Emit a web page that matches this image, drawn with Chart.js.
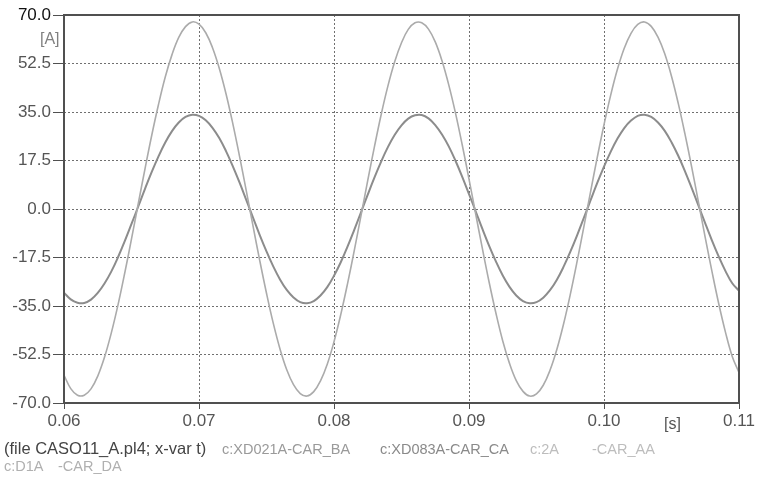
<!DOCTYPE html>
<html>
<head>
<meta charset="utf-8">
<script src="https://cdn.jsdelivr.net/npm/chart.js@4.4.1/dist/chart.umd.min.js"></script>
<style>
  html, body { margin: 0; padding: 0; background: #fff; }
  #wrap { width: 759px; height: 478px; }
</style>
</head>
<body>
<div id="wrap"><canvas id="grafico" width="759" height="478"></canvas></div>
<script>
// Correntes (ATP, 60 Hz), amostras a cada 0,5 ms
const tempos = [
  0.0600, 0.0605, 0.0610, 0.0615, 0.0620, 0.0625, 0.0630, 0.0635, 0.0640, 0.0645,
  0.0650, 0.0655, 0.0660, 0.0665, 0.0670, 0.0675, 0.0680, 0.0685, 0.0690, 0.0695,
  0.0700, 0.0705, 0.0710, 0.0715, 0.0720, 0.0725, 0.0730, 0.0735, 0.0740, 0.0745,
  0.0750, 0.0755, 0.0760, 0.0765, 0.0770, 0.0775, 0.0780, 0.0785, 0.0790, 0.0795,
  0.0800, 0.0805, 0.0810, 0.0815, 0.0820, 0.0825, 0.0830, 0.0835, 0.0840, 0.0845,
  0.0850, 0.0855, 0.0860, 0.0865, 0.0870, 0.0875, 0.0880, 0.0885, 0.0890, 0.0895,
  0.0900, 0.0905, 0.0910, 0.0915, 0.0920, 0.0925, 0.0930, 0.0935, 0.0940, 0.0945,
  0.0950, 0.0955, 0.0960, 0.0965, 0.0970, 0.0975, 0.0980, 0.0985, 0.0990, 0.0995,
  0.1000, 0.1005, 0.1010, 0.1015, 0.1020, 0.1025, 0.1030, 0.1035, 0.1040, 0.1045,
  0.1050, 0.1055, 0.1060, 0.1065, 0.1070, 0.1075, 0.1080, 0.1085, 0.1090, 0.1095,
  0.1100
];

// curva maior (clara)
const correnteBA = [
  -60.0, -64.8, -67.2, -67.2, -64.9, -60.3, -53.5, -44.8, -34.6, -23.1,
  -10.8,   1.9,  14.5,  26.6,  37.7,  47.6,  55.7,  61.9,  65.8,  67.5,
   66.7,  63.6,  58.2,  50.8,  41.6,  30.9,  19.1,   6.6,  -6.1, -18.6,
  -30.4, -41.2, -50.5, -58.0, -63.4, -66.6, -67.5, -65.9, -62.0, -56.0,
  -47.9, -38.1, -27.0, -15.0,  -2.4,  10.3,  22.6,  34.2,  44.5,  53.2,
   60.0,  64.8,  67.2,  67.2,  64.9,  60.3,  53.5,  44.8,  34.6,  23.1,
   10.8,  -1.9, -14.5, -26.6, -37.7, -47.6, -55.7, -61.9, -65.8, -67.5,
  -66.7, -63.6, -58.2, -50.8, -41.6, -30.9, -19.1,  -6.6,   6.1,  18.6,
   30.4,  41.2,  50.5,  58.0,  63.4,  66.6,  67.5,  65.9,  62.0,  56.0,
   47.9,  38.1,  27.0,  15.0,   2.4, -10.3, -22.6, -34.2, -44.5, -53.2,
  -59.0
];

// curva menor (escura)
const correnteCA = [
  -30.2, -32.6, -33.8, -33.9, -32.7, -30.3, -26.9, -22.6, -17.4, -11.6,
   -5.4,   0.9,   7.3,  13.4,  19.0,  24.0,  28.1,  31.2,  33.2,  34.0,
   33.6,  32.0,  29.3,  25.6,  20.9,  15.5,   9.6,   3.3,  -3.1,  -9.4,
  -15.3, -20.7, -25.4, -29.2, -31.9, -33.6, -34.0, -33.2, -31.2, -28.2,
  -24.1, -19.2, -13.6,  -7.5,  -1.2,   5.2,  11.4,  17.2,  22.4,  26.8,
   30.2,  32.6,  33.8,  33.9,  32.7,  30.3,  26.9,  22.6,  17.4,  11.6,
    5.4,  -0.9,  -7.3, -13.4, -19.0, -24.0, -28.1, -31.2, -33.2, -34.0,
  -33.6, -32.0, -29.3, -25.6, -20.9, -15.5,  -9.6,  -3.3,   3.1,   9.4,
   15.3,  20.7,  25.4,  29.2,  31.9,  33.6,  34.0,  33.2,  31.2,  28.2,
   24.1,  19.2,  13.6,   7.5,   1.2,  -5.2, -11.4, -17.2, -22.4, -26.8,
  -29.5
];

const yTicks = [-70, -52.5, -35, -17.5, 0, 17.5, 35, 52.5, 70];
const xTicks = [0.06, 0.07, 0.08, 0.09, 0.10, 0.11];

const FONTE = '"Liberation Sans", Arial, sans-serif';

const pts = (vals) => tempos.map((t, i) => ({ x: t, y: vals[i] }));

// moldura + textos do rodapé
const moldura = {
  id: 'moldura',
  afterDraw(chart) {
    const { ctx, chartArea: a } = chart;
    ctx.save();
    ctx.strokeStyle = '#505050';
    ctx.lineWidth = 2;
    ctx.strokeRect(a.left, a.top, a.right - a.left, a.bottom - a.top);

    ctx.textBaseline = 'middle';
    ctx.textAlign = 'left';
    ctx.font = '16px ' + FONTE;
    ctx.fillStyle = '#808080';
    ctx.fillText('[A]', 40, 40);
    ctx.fillStyle = '#555';
    ctx.fillText('[s]', 664, 425);

    ctx.font = '16.5px ' + FONTE;
    ctx.fillStyle = '#444';
    ctx.fillText('(file CASO11_A.pl4; x-var t)', 4, 449);
    ctx.font = '14.5px ' + FONTE;
    ctx.fillStyle = '#9a9a9a';
    ctx.fillText('c:XD021A-CAR_BA', 222, 450);
    ctx.fillStyle = '#8a8a8a';
    ctx.fillText('c:XD083A-CAR_CA', 380, 450);
    ctx.fillStyle = '#bdbdbd';
    ctx.fillText('c:2A', 530, 450);
    ctx.fillText('-CAR_AA', 592, 450);
    ctx.fillStyle = '#b0b0b0';
    ctx.fillText('c:D1A', 4, 467);
    ctx.fillText('-CAR_DA', 58, 467);
    ctx.restore();
  }
};

const gridCor = (lim) => (c) =>
  (c.tick && (Math.abs(c.tick.value - lim[0]) < 1e-9 || Math.abs(c.tick.value - lim[1]) < 1e-9))
    ? 'rgba(0,0,0,0)' : '#707070';

new Chart(document.getElementById('grafico'), {
  type: 'line',
  data: {
    datasets: [
      { label: 'c:XD021A-CAR_BA', data: pts(correnteBA), borderColor: '#ababab', borderWidth: 1.6 },
      { label: 'c:XD083A-CAR_CA', data: pts(correnteCA), borderColor: '#8c8c8c', borderWidth: 2 }
    ]
  },
  options: {
    responsive: false,
    animation: false,
    devicePixelRatio: 1,
    layout: { padding: { left: 0, top: 15, right: 20, bottom: 35 } },
    elements: { point: { radius: 0 }, line: { tension: 0.4 } },
    plugins: { legend: { display: false }, tooltip: { enabled: false } },
    scales: {
      x: {
        type: 'linear', min: 0.06, max: 0.11,
        afterBuildTicks: (s) => { s.ticks = xTicks.map(v => ({ value: v })); },
        afterFit: (s) => { s.height = 40; },
        ticks: {
          callback: (v) => v.toFixed(2),
          font: { size: 17, family: FONTE }, color: '#555', padding: 2, maxRotation: 0
        },
        grid: {
          color: gridCor([0.06, 0.11]), lineWidth: 1,
          tickColor: '#505050', tickLength: 6, tickBorderDash: []
        },
        border: { display: false, dash: [2, 2] }
      },
      y: {
        min: -70, max: 70,
        afterBuildTicks: (s) => { s.ticks = yTicks.map(v => ({ value: v })); },
        afterFit: (s) => { s.width = 64; },
        ticks: {
          callback: (v) => v.toFixed(1),
          font: { size: 17, family: FONTE },
          color: (c) => c.tick && c.tick.value === 70 ? '#111' : '#555',
          padding: 2
        },
        grid: {
          color: gridCor([-70, 70]), lineWidth: 1,
          tickColor: '#505050', tickLength: 11, tickBorderDash: []
        },
        border: { display: false, dash: [2, 2] }
      }
    }
  },
  plugins: [moldura]
});
</script>
</body>
</html>
